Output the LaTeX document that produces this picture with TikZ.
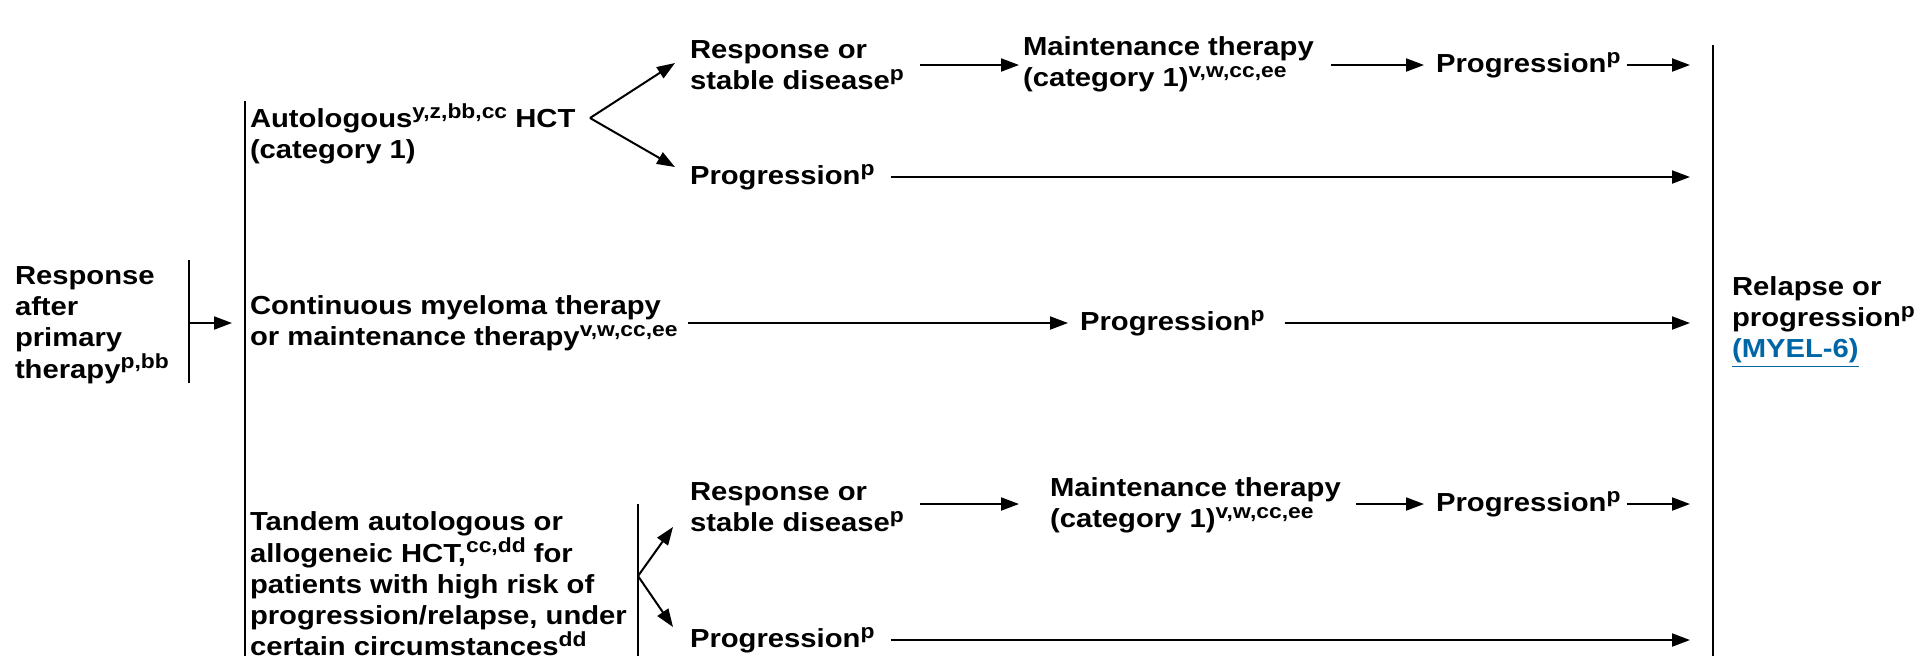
\documentclass[tikz,border=0pt]{standalone}
\usepackage{fontspec}
\setmainfont{Liberation Sans}[FakeStretch=1.12]
\usetikzlibrary{arrows.meta,calc}
\definecolor{linkblue}{RGB}{0,103,166}
\newcommand{\sps}[1]{\raisebox{4.6pt}{\fontsize{10.2}{10}\selectfont #1}}
\begin{document}
\begin{tikzpicture}[x=0.5pt,y=-0.5pt,
  txt/.style={anchor=west, inner sep=0pt, outer sep=0pt, align=left,
              font=\fontsize{13.05}{15.6}\selectfont\bfseries},
  arr/.style={-{Triangle[length=9pt,width=6.5pt]}, line width=1pt},
  vline/.style={line width=0.85pt}]
\useasboundingbox (0,0) rectangle (1914,655);

% left-most
\node[txt] (resp) at (15,325) {Response\\after\\primary\\therapy\sps{p,bb}};
\coordinate (b1t) at (189,260);
\coordinate (b1b) at (189,383);
\draw[vline] (b1t) -- (b1b);
\coordinate (b1m) at (189,323);
\coordinate (b2m) at (232,323);
\draw[arr] (b1m) -- (b2m);

% main vertical
\coordinate (vlt) at (245,101);
\coordinate (vlb) at (245,660);
\draw[vline] (vlt) -- (vlb);

% right vertical
\coordinate (vrt) at (1713,45);
\coordinate (vrb) at (1713,660);
\draw[vline] (vrt) -- (vrb);
\coordinate (rt) at (1690,0);

% row 1: autologous
\node[txt] (auto) at (250,134) {Autologous\sps{y,z,bb,cc} HCT\\(category 1)};
\coordinate (f1) at (590,118);
\node[txt] (rsd1) at (690,65) {Response or\\stable disease\sps{p}};
\node[txt] (maint1) at (1023,64) {Maintenance therapy\\(category 1)\sps{v,w,cc,ee}};
\node[txt] (prog1a) at (1436,65) {Progression\sps{p}};
\node[txt] (prog1b) at (690,177) {Progression\sps{p}};
\draw[arr] (f1) -- ($(rsd1.west)+(-15,-2)$);
\draw[arr] (f1) -- ($(prog1b.west)+(-15,-10)$);
\draw[arr] (920,65) -- (1019,65);
\draw[arr] (1331,65) -- (1424,65);
\draw[arr] ($(prog1a.east)+(6,0)$) -- (rt |- prog1a.east);
\draw[arr] ($(prog1b.east)+(16,0)$) -- (rt |- prog1b.east);

% row 2: continuous
\node[txt] (cont) at (250,323) {Continuous myeloma therapy\\or maintenance therapy\sps{v,w,cc,ee}};
\node[txt] (prog2) at (1080,323) {Progression\sps{p}};
\draw[arr] ($(cont.east)+(10,0)$) -- ($(prog2.west)+(-12,0)$);
\draw[arr] ($(prog2.east)+(20,0)$) -- (rt |- prog2.east);

% relapse
\node[txt] (rel) at (1732,322) {Relapse or\\progression\sps{p}\\\textcolor{linkblue}{\underline{(MYEL-6)}}};

% row 3: tandem
\node[txt] (tand) at (250,584) {Tandem autologous or\\allogeneic HCT,\sps{cc,dd} for\\patients with high risk of\\progression/relapse, under\\certain circumstances\sps{dd}};
\coordinate (b3t) at (638,504);
\coordinate (b3b) at (638,660);
\draw[vline] (b3t) -- (b3b);
\coordinate (f3) at (638,576);
\node[txt] (rsd2) at (690,507) {Response or\\stable disease\sps{p}};
\node[txt] (maint2) at (1050,505) {Maintenance therapy\\(category 1)\sps{v,w,cc,ee}};
\node[txt] (prog3) at (1436,504) {Progression\sps{p}};
\node[txt] (prog4) at (690,640) {Progression\sps{p}};
\draw[arr] (f3) -- ($(rsd2.west)+(-17,20)$);
\draw[arr] (f3) -- ($(prog4.west)+(-17,-13)$);
\draw[arr] (920,504) -- (1019,504);
\draw[arr] (1356,504) -- (1424,504);
\draw[arr] ($(prog3.east)+(6,0)$) -- (rt |- prog3.east);
\draw[arr] ($(prog4.east)+(16,0)$) -- (rt |- prog4.east);
\end{tikzpicture}
\end{document}
